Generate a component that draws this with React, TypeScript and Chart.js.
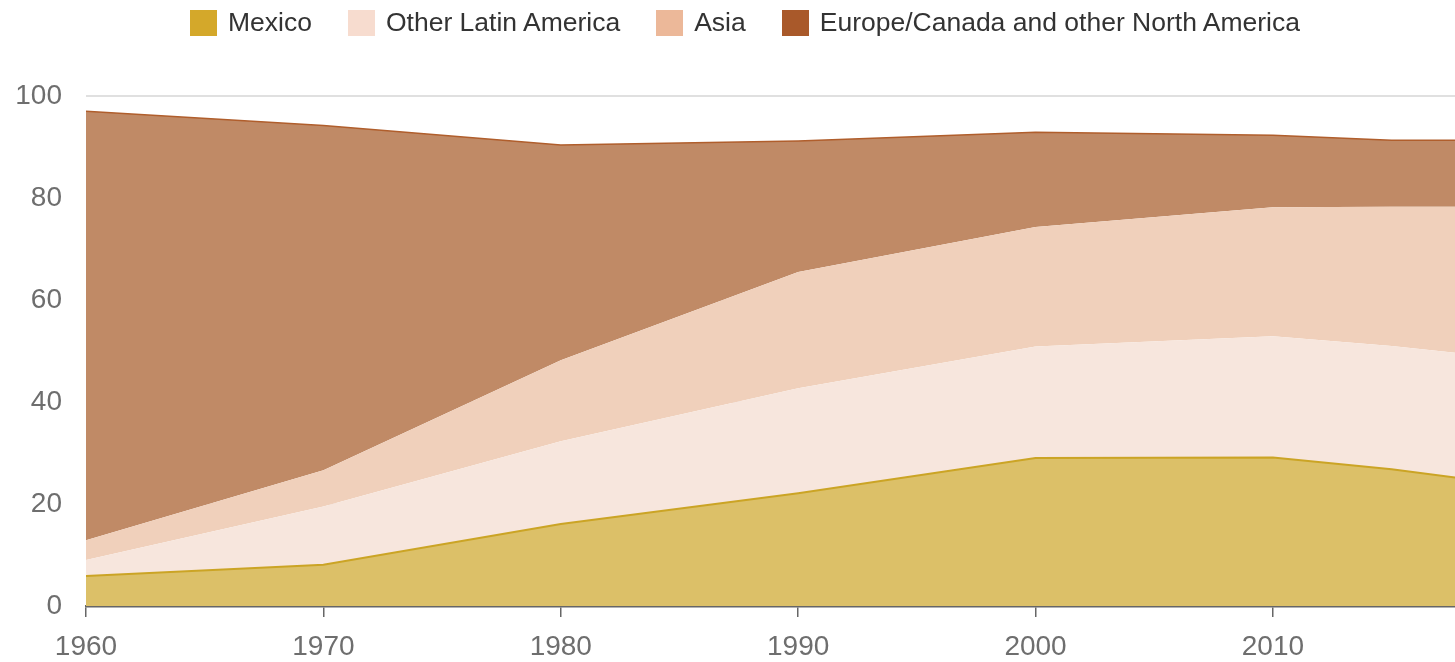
import React, { useEffect, useRef } from "react";
import { Chart, registerables } from "chart.js";

Chart.register(...registerables);

// ---- Data ----
const years = [1960, 1970, 1980, 1990, 2000, 2010, 2015, 2018];
const seriesLabels = [
  "Mexico",
  "Other Latin America",
  "Asia",
  "Europe/Canada and other North America",
];
const mexico = [5.9, 8.1, 16.1, 22.1, 29.0, 29.1, 26.8, 25.0];
const otherLatinAmerica = [3.1, 11.4, 16.2, 20.6, 21.9, 23.8, 24.2, 24.5];
const asia = [3.9, 7.1, 15.9, 22.8, 23.4, 25.3, 27.3, 28.8];
const europeCanada = [84.1, 67.6, 42.2, 25.7, 18.6, 14.1, 13.0, 13.0];
const xTickValues = [1960, 1970, 1980, 1990, 2000, 2010];
const yTickValues = [0, 20, 40, 60, 80, 100];

// ---- Styles ----
const fillColors = ["#dcc068", "#f7e6dd", "#f0d0bb", "#c08a66"];
const lineColors = ["#cba425", "rgba(0,0,0,0)", "rgba(0,0,0,0)", "#b05e2c"];
const lineWidths = [2, 0, 0, 1.5];
const swatchColors = ["#d4a82a", "#f7dccf", "#ecb899", "#a9592a"];

const W = 1455;
const H = 662;
const FONT = "'Liberation Sans', Arial, sans-serif";

export default function App() {
  const canvasRef = useRef<HTMLCanvasElement | null>(null);

  useEffect(() => {
    const canvas = canvasRef.current;
    if (!canvas) return;
    const values = [mexico, otherLatinAmerica, asia, europeCanada];
    const chart = new Chart(canvas, {
      type: "line",
      data: {
        datasets: values.map((arr, i) => ({
          label: seriesLabels[i],
          data: arr.map((v, j) => ({ x: years[j], y: v })),
          backgroundColor: fillColors[i],
          borderColor: lineColors[i],
          borderWidth: lineWidths[i],
          fill: i === 0 ? "origin" : "-1",
          pointRadius: 0,
          tension: 0,
        })),
      },
      options: {
        responsive: false,
        animation: false,
        events: [],
        layout: { padding: { top: 96, left: 0, right: 0, bottom: 0 } },
        plugins: {
          legend: { display: false },
          tooltip: { enabled: false },
        },
        scales: {
          x: {
            type: "linear",
            min: 1960,
            max: 2017.67,
            z: 1,
            afterBuildTicks: (scale: any) => {
              scale.ticks = xTickValues.map((v) => ({ value: v }));
            },
            afterFit: (scale: any) => {
              scale.height = 56;
            },
            grid: {
              drawOnChartArea: false,
              drawTicks: true,
              tickLength: 11,
              color: "#666",
              lineWidth: 1.5,
            },
            border: { display: true, color: "#666", width: 2.5 },
            ticks: {
              color: "#6e6e6e",
              padding: 13,
              maxRotation: 0,
              autoSkip: false,
              font: { family: FONT, size: 28 },
              callback: (v: any) => String(v),
            },
          },
          y: {
            stacked: true,
            min: 0,
            max: 100,
            z: 1,
            afterBuildTicks: (scale: any) => {
              scale.ticks = yTickValues.map((v) => ({ value: v }));
            },
            afterFit: (scale: any) => {
              scale.width = 86;
            },
            grid: {
              drawTicks: false,
              color: (ctx: any) =>
                ctx.tick && ctx.tick.value === 100
                  ? "#e0e0e0"
                  : ctx.tick && ctx.tick.value === 0
                  ? "rgba(0,0,0,0)"
                  : "rgba(90,50,20,0.1)",
              lineWidth: 2,
            },
            border: { display: false },
            ticks: {
              color: "#6e6e6e",
              padding: 24,
              font: { family: FONT, size: 28 },
            },
          },
        },
      },
    });
    return () => chart.destroy();
  }, []);

  return (
    <div
      style={{
        position: "absolute",
        left: 0,
        top: 0,
        width: W,
        height: H,
        background: "#fff",
        overflow: "hidden",
      }}
    >
      <canvas
        ref={canvasRef}
        width={W}
        height={H}
        style={{ position: "absolute", left: 0, top: 0, width: W, height: H }}
      />
      <div
        style={{
          position: "absolute",
          left: 190,
          top: 9,
          height: 27,
          display: "flex",
          alignItems: "center",
          fontFamily: FONT,
          fontSize: 26.5,
          color: "#333",
          whiteSpace: "nowrap",
        }}
      >
        {seriesLabels.map((label, i) => (
          <div
            key={label}
            style={{
              display: "flex",
              alignItems: "center",
              marginRight: 36,
            }}
          >
            <span
              style={{
                display: "inline-block",
                width: 27,
                height: 26,
                background: swatchColors[i],
                marginRight: 11,
              }}
            />
            <span style={{ lineHeight: "27px" }}>{label}</span>
          </div>
        ))}
      </div>
    </div>
  );
}
